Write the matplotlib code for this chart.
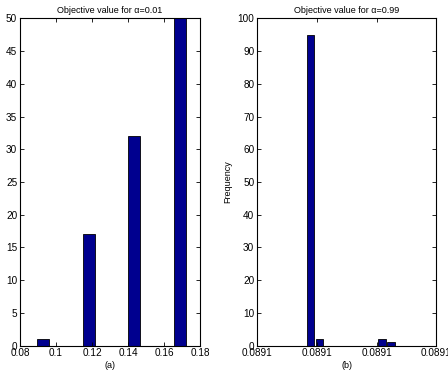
import numpy as np
import matplotlib
matplotlib.use('Agg')
import matplotlib.pyplot as plt

plt.rcParams['font.family'] = ['Liberation Sans', 'DejaVu Sans']

# histogram (a): alpha = 0.01
centers_a = [0.0930, 0.1014, 0.1098, 0.1182, 0.1266, 0.1351, 0.1435, 0.1519, 0.1603, 0.1687]
counts_a = [1, 0, 0, 17, 0, 0, 32, 0, 0, 50]

# histogram (b): alpha = 0.99 (positions in tick units, all ticks read 0.0891)
centers_b = [0.900, 1.049, 1.198, 1.347, 1.496, 1.644, 1.793, 1.942, 2.091, 2.240]
counts_b = [95, 2, 0, 0, 0, 0, 0, 0, 2, 1]
ticks_b = [0, 1, 2, 3]
ticklabels_b = ['0.0891', '0.0891', '0.0891', '0.0891']

navy = '#00008F'
fs = 6.5
tfs = 7.2

fig = plt.figure(figsize=(4.48, 3.81), dpi=100)
ax1 = fig.add_axes([0.0446, 0.0927, 0.402, 0.859])
ax2 = fig.add_axes([0.574, 0.0927, 0.400, 0.859])

w_a = (centers_a[-1] - centers_a[0]) / 9 * 0.8
ax1.bar(centers_a, counts_a, width=w_a, color=navy, edgecolor='black', linewidth=0.6)
ax1.set_xlim(0.08, 0.18)
ax1.set_ylim(0, 50)
ax1.set_xticks(np.arange(0.08, 0.181, 0.02))
ax1.set_xticklabels(['0.08', '0.1', '0.12', '0.14', '0.16', '0.18'])
ax1.set_yticks(range(0, 51, 5))
ax1.set_title('Objective value for α=0.01', fontsize=fs, pad=4)
ax1.set_xlabel('(a)', fontsize=fs, labelpad=2)

w_b = (centers_b[-1] - centers_b[0]) / 9 * 0.8
ax2.bar(centers_b, counts_b, width=w_b, color=navy, edgecolor='black', linewidth=0.6)
ax2.set_xlim(0, 3)
ax2.set_ylim(0, 100)
ax2.set_xticks(ticks_b)
ax2.set_xticklabels(ticklabels_b)
ax2.set_yticks(range(0, 101, 10))
ax2.set_title('Objective value for α=0.99', fontsize=fs, pad=4)
ax2.set_xlabel('(b)', fontsize=fs, labelpad=2)
ax2.set_ylabel('Frequency', fontsize=fs, labelpad=4)

for ax in (ax1, ax2):
    ax.tick_params(direction='in', top=True, right=True, labelsize=tfs,
                   length=3, width=0.6, pad=2)
    for s in ax.spines.values():
        s.set_linewidth(0.8)

fig.savefig('out.png', dpi=100)
